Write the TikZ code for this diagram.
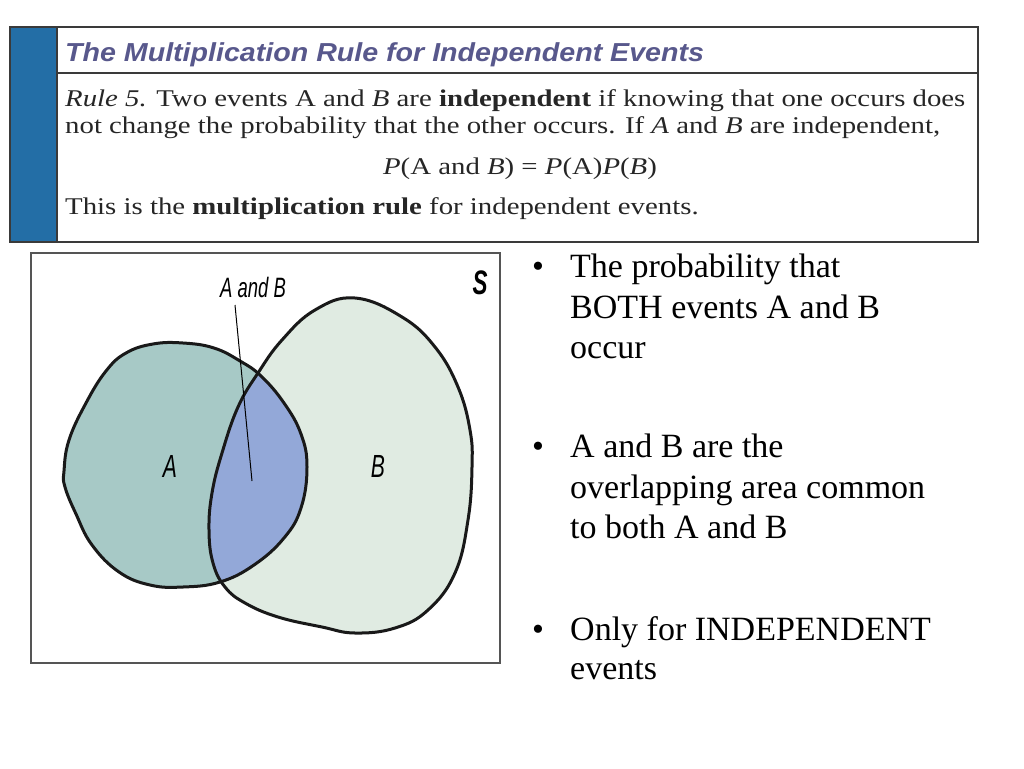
\documentclass[tikz,border=0pt]{standalone}
\usepackage{fontspec}
\setmainfont{Liberation Serif}
\newfontfamily\hdrfont[FakeStretch=1.2]{Liberation Serif}
\newfontfamily\ttlfont[FakeStretch=1.1]{Liberation Sans}
\newfontfamily\venfont[FakeStretch=0.66]{Liberation Sans}
\definecolor{stripblue}{HTML}{236EA6}
\definecolor{ttlcol}{HTML}{58588C}
\definecolor{hdrline}{HTML}{3A3A3A}
\definecolor{boxline}{HTML}{555555}
\definecolor{afill}{HTML}{A7C9C6}
\definecolor{bfill}{HTML}{E0EBE2}
\definecolor{abfill}{HTML}{93A8D8}
\newcommand{\shapeA}{plot[smooth cycle, tension=0.7] coordinates {(64,471) (69,440) (86,403) (106,371) (126,353) (153,344) (183,343) (214,348) (240,361) (261,376) (284,403) (301,434) (307,467) (301,508) (284,538) (254,565) (220,582) (183,587) (150,585) (119,572) (92,545) (76,514) (65,487)}}
\newcommand{\shapeB}{plot[smooth cycle, tension=0.7] coordinates {(355,298) (402,317) (435,347) (458,387) (470,430) (472,467) (468,520) (455,573) (428,610) (395,628) (355,633) (322,627) (278,617) (245,603) (225,587) (213,563) (209,530) (212,493) (222,453) (238,407) (258,373) (282,340) (315,310)}}
\tikzset{
  hdrtext/.style={anchor=base west, inner sep=0pt, font=\hdrfont\fontsize{24}{27}\selectfont, text=black!85},
  bullettext/.style={anchor=base west, inner sep=0pt, font=\fontsize{34}{40}\selectfont},
  venlabel/.style={inner sep=0pt, font=\venfont\itshape\fontsize{32}{34}\selectfont},
  outline/.style={draw=black!90, line width=3pt, line join=round},
}
\begin{document}
\begin{tikzpicture}[x=1pt,y=-1pt]
\useasboundingbox (0,0) rectangle (1024,768);
\fill[white] (0,0) rectangle (1024,768);
% header box
\fill[stripblue] (10,27) rectangle (57,242);
\draw[hdrline, line width=1.5pt] (57,73) -- (978,73);
\draw[hdrline, line width=1.5pt] (57,27) -- (57,242);
\draw[hdrline, line width=2pt] (10,27) rectangle (978,242);
\node[anchor=base west, inner sep=0pt, text=ttlcol, font=\ttlfont\bfseries\itshape\fontsize{26}{27}\selectfont] (title) at (65,61) {The Multiplication Rule for Independent Events};
\node[hdrtext] (l1) at (65,106) {\textit{Rule 5.} Two events A and \textit{B} are \textbf{independent} if knowing that one occurs does};
\node[hdrtext] (l2) at (65,133) {not change the probability that the other occurs. If \textit{A} and \textit{B} are independent,};
\node[hdrtext, anchor=base] (l3) at (520,174) {\textit{P}(A and \textit{B}) = \textit{P}(A)\textit{P}(\textit{B})};
\node[hdrtext] (l4) at (65,214) {This is the \textbf{multiplication rule} for independent events.};
% venn box
\draw[boxline, line width=2pt] (31,253) rectangle (500,663);
\fill[afill] \shapeA;
\fill[bfill] \shapeB;
\begin{scope}
\clip \shapeA;
\fill[abfill] \shapeB;
\end{scope}
\draw[outline] \shapeA;
\draw[outline] \shapeB;
\node[venlabel] (la) at (170,466) {A};
\node[venlabel] (lb) at (378,466) {B};
\node[venlabel, font=\venfont\itshape\fontsize{28}{30}\selectfont] (lab) at (253,287) {A and B};
\node[inner sep=0pt, font=\venfont\bfseries\itshape\fontsize{34}{34}\selectfont] (ls) at (480,283) {S};
\coordinate (abtop) at (235,305);
\coordinate (abtip) at (252,481);
\draw[line width=1pt] (abtop) -- (abtip);
% bullets
\node[bullettext] (b1) at (532,277) {•};
\node[bullettext] (t1a) at (570,277) {The probability that};
\node[bullettext] (t1b) at (570,318) {BOTH events A and B};
\node[bullettext] (t1c) at (570,358) {occur};
\node[bullettext] (b2) at (532,457) {•};
\node[bullettext] (t2a) at (570,457) {A and B are the};
\node[bullettext] (t2b) at (570,498) {overlapping area common};
\node[bullettext] (t2c) at (570,538) {to both A and B};
\node[bullettext] (b3) at (532,640) {•};
\node[bullettext] (t3a) at (570,640) {Only for INDEPENDENT};
\node[bullettext] (t3b) at (570,679) {events};
\end{tikzpicture}
\end{document}
